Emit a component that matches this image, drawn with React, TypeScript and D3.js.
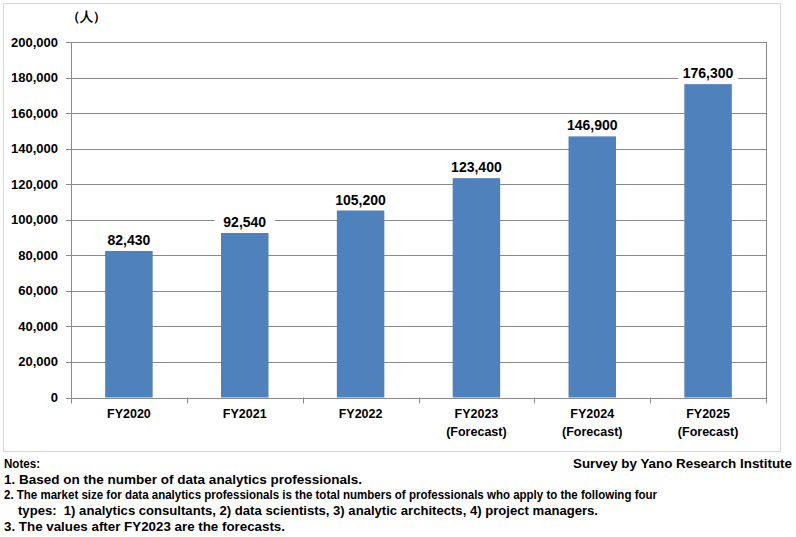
import React from "react";
import * as d3 from "d3";

const categories = ["FY2020", "FY2021", "FY2022", "FY2023", "FY2024", "FY2025"];
const subLabels = ["", "", "", "(Forecast)", "(Forecast)", "(Forecast)"];
const values = [82430, 92540, 105200, 123400, 146900, 176300];
const yTicks = [0, 20000, 40000, 60000, 80000, 100000, 120000, 140000, 160000, 180000, 200000];
const unitLabel = "（人）";
const notes = [
  "Notes:",
  "1. Based on the number of data analytics professionals.",
  "2. The market size for data analytics professionals is the total numbers of professionals who apply to the following four",
  "types:  1) analytics consultants, 2) data scientists, 3) analytic architects, 4) project managers.",
  "3. The values after FY2023 are the forecasts.",
];
const source = "Survey by Yano Research Institute";

const W = 796;
const H = 537;
const left = 71;
const right = 766;
const top = 42;
const bottom = 397.5;
const FONT = "'Liberation Sans', Arial, sans-serif";

// layout for notes lines: x, baseline, rendered width
const noteLayout = [
  { x: 4, y: 468, w: 36 },
  { x: 4, y: 483.5, w: 358 },
  { x: 4, y: 499, w: 653 },
  { x: 18, y: 514.5, w: 580 },
  { x: 4, y: 531, w: 281 },
];

export default function App() {
  const x = d3.scaleBand<string>().domain(categories).range([left, right]).paddingInner(0.59).paddingOuter(0.295);
  const band = d3.scaleBand<string>().domain(categories).range([left, right]).padding(0);
  const y = d3.scaleLinear().domain([0, 200000]).range([bottom, top]);
  const fmt = d3.format(",");
  const gridColor = "#8a8a8a";

  return (
    <svg width={W} height={H} style={{ position: "absolute", left: 0, top: 0, background: "#fff" }} fontFamily={FONT}>
      <rect x={0} y={0} width={W} height={H} fill="#fff" />
      <rect x={3.5} y={3.5} width={777} height={448} fill="none" stroke="#d9d9d9" strokeWidth={1} />
      <text x={86} y={21} fontSize={13} fontWeight="bold" textAnchor="middle" fill="#000">{unitLabel}</text>
      {yTicks.map((t) => (
        <g key={t}>
          <line x1={left - 5} x2={right} y1={Math.round(y(t)) + 0.5} y2={Math.round(y(t)) + 0.5} stroke={gridColor} strokeWidth={1} />
          <text x={58} y={y(t) + 4.5} fontSize={13} fontWeight="bold" textAnchor="end" fill="#000">{fmt(t)}</text>
        </g>
      ))}
      <line x1={left + 0.5} x2={left + 0.5} y1={top} y2={bottom + 1} stroke={gridColor} />
      <line x1={right + 0.5} x2={right + 0.5} y1={top} y2={bottom + 1} stroke={gridColor} />
      {categories.map((c) => (
        <line key={"t" + c} x1={Math.round(band(c)!) + 0.5} x2={Math.round(band(c)!) + 0.5} y1={bottom} y2={bottom + 6} stroke={gridColor} />
      ))}
      <line x1={right + 0.5} x2={right + 0.5} y1={bottom} y2={bottom + 6} stroke={gridColor} />
      {categories.map((c, i) => {
        const bx = x(c)!;
        const bw = x.bandwidth();
        const by = y(values[i]);
        const cx = bx + bw / 2;
        const label = fmt(values[i]);
        return (
          <g key={c}>
            <rect x={bx} y={by} width={bw} height={bottom - by} fill="#4F81BD" />
            <rect x={cx - 30} y={by - 20} width={60} height={17} fill="#fff" />
            <text x={cx} y={by - 6} fontSize={14} fontWeight="bold" textAnchor="middle" fill="#000">{label}</text>
            <text x={cx} y={418} fontSize={12.5} fontWeight="bold" textAnchor="middle" fill="#000">{c}</text>
            {subLabels[i] && (
              <text x={cx} y={435.5} fontSize={12.5} fontWeight="bold" textAnchor="middle" fill="#000">{subLabels[i]}</text>
            )}
          </g>
        );
      })}
      {notes.map((n, i) => (
        <text
          key={i}
          x={noteLayout[i].x}
          y={noteLayout[i].y}
          fontSize={i === 4 ? 13 : 12.5}
          fontWeight="bold"
          fill="#000"
          textLength={noteLayout[i].w}
          lengthAdjust="spacingAndGlyphs"
          style={{ whiteSpace: "pre" }}
        >
          {n}
        </text>
      ))}
      <text x={792} y={468} fontSize={12.5} fontWeight="bold" textAnchor="end" fill="#000" textLength={219} lengthAdjust="spacingAndGlyphs">{source}</text>
    </svg>
  );
}
